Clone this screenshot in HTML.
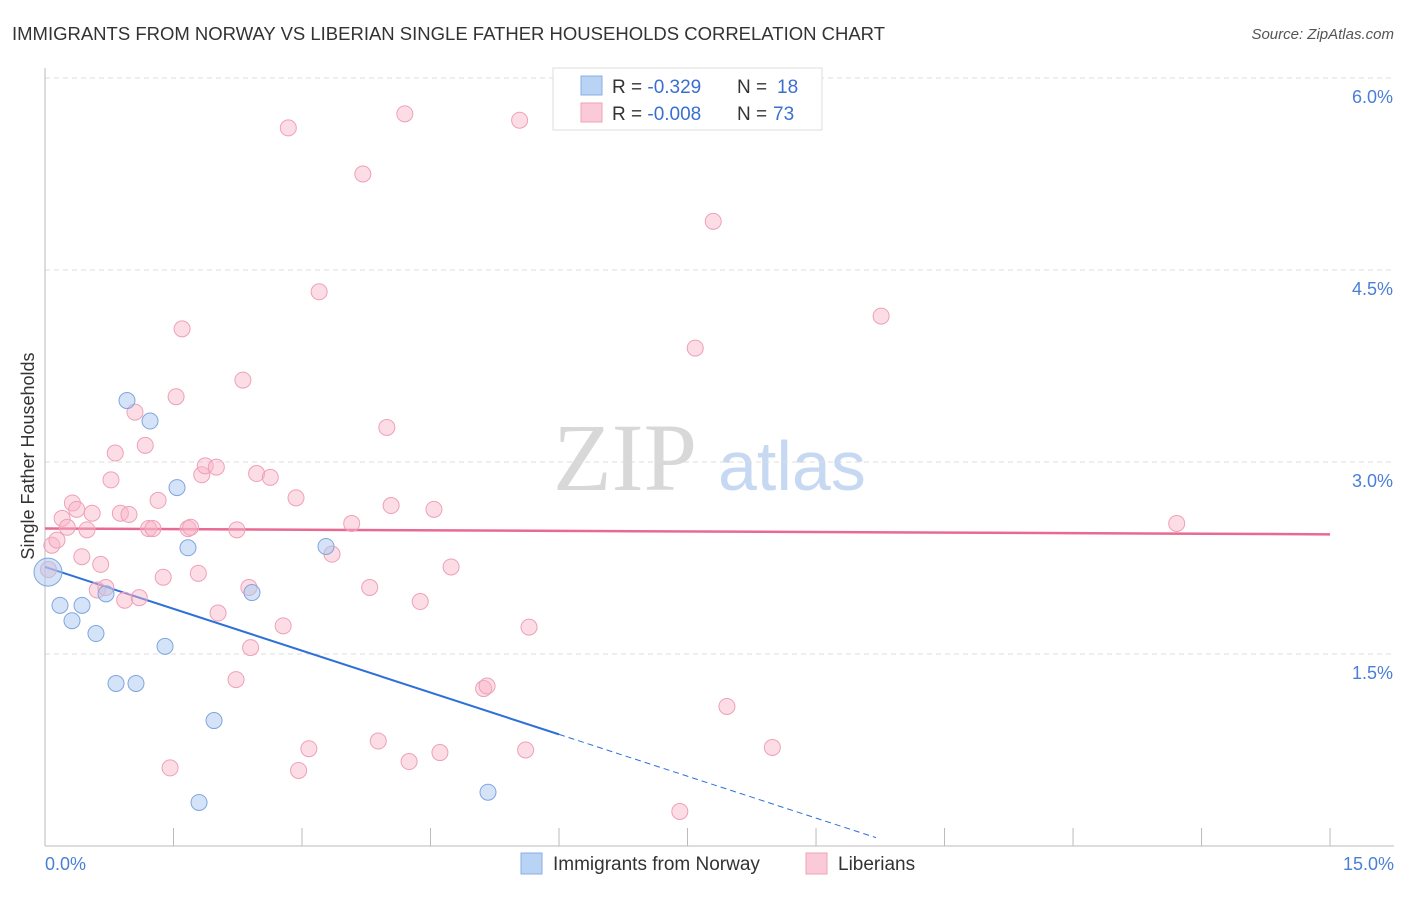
<!DOCTYPE html>
<html><head><meta charset="utf-8"><style>
body{margin:0;background:#fff;font-family:"Liberation Sans",sans-serif}
</style></head><body>
<svg id="c" width="1406" height="892" font-family="Liberation Sans, sans-serif">
<text x="12" y="40" font-size="18.5" fill="#333" textLength="873">IMMIGRANTS FROM NORWAY VS LIBERIAN SINGLE FATHER HOUSEHOLDS CORRELATION CHART</text>
<text x="1394" y="39" font-size="15" fill="#555" font-style="italic" text-anchor="end">Source: ZipAtlas.com</text>
<text x="34" y="456" font-size="18" fill="#333" text-anchor="middle" transform="rotate(-90 34 456)">Single Father Households</text>
<text x="553" y="490" font-size="96" fill="#d8d8d8" style="font-family:'Liberation Serif',serif">ZIP</text>
<text x="718" y="490" font-size="70" fill="#c7d9f2">atlas</text>
<g id="grid"></g><g id="axes"></g><g id="lines"></g><g id="pts"></g>
<g>
<rect x="553" y="68" width="269" height="62" fill="#fff" stroke="#ddd"/>
<rect x="581" y="76" width="21" height="19" fill="#b9d3f5" stroke="#88aee6"/>
<rect x="581" y="103" width="21" height="19" fill="#fbcad8" stroke="#f0a0b8"/>
<text x="612" y="93" font-size="19" fill="#333">R = <tspan fill="#3a6fd0"> -0.329</tspan><tspan x="737">N = </tspan><tspan fill="#3a6fd0" x="777">18</tspan></text>
<text x="612" y="120" font-size="19" fill="#333">R = <tspan fill="#3a6fd0">-0.008</tspan><tspan x="737">N = </tspan><tspan fill="#3a6fd0" x="773">73</tspan></text>
</g>
<g>
<rect x="521" y="853" width="21" height="21" fill="#b9d3f5" stroke="#88aee6"/>
<text x="553" y="870" font-size="19" fill="#333">Immigrants from Norway</text>
<rect x="806" y="853" width="21" height="21" fill="#fbcad8" stroke="#f0a0b8"/>
<text x="838" y="870" font-size="19" fill="#333">Liberians</text>
</g>
</svg>
<script>
const xTicks=[0,1.5,3,4.5,6,7.5,9,10.5,12,13.5,15];
const yTicks=[1.5,3.0,4.5,6.0];
const norwayX=[0.035,0.175,0.315,0.432,0.595,0.712,0.829,0.957,1.062,1.226,1.401,1.541,1.669,1.798,1.973,2.416,3.28,5.171];
const norwayY=[2.14,1.88,1.76,1.88,1.66,1.97,1.27,3.48,1.27,3.32,1.56,2.8,2.33,0.34,0.98,1.98,2.34,0.42];
const liberX=[48,52,57,62,67,72,77,82,87,92,97,101,106,111,115,120,125,129,135,139,145,149,153,158,163,170,176,182,188,191,198,202,205,216,218,237,243,236,249,251,257,270,283,288,296,299,309,319,332,352,363,370,378,387,391,405,409,420,434,440,451,484,487,520,526,529,680,695,713,727,772,881,1177].map(p=>+((p-45)/85.67).toFixed(2));
const liberY=[570,545,540,518,527,503,510,557,530,513,590,565,587,480,453,513,600,514,412,598,446,528,528,501,577,768,397,329,528,527,573,475,466,467,613,530,380,680,588,647,473,477,626,128,498,771,749,292,554,523,174,588,741,428,505,114,761,601,509,753,567,688,686,120,750,627,812,348,222,707,747,316,523].map(p=>+((846-p)/128).toFixed(2));
const norwayFit=[2.18,-0.218];
const liberFit=[2.48,-0.003];
const X=v=>45+v*85.67, Y=v=>846-v*128;
const NS="http://www.w3.org/2000/svg";
function mk(parent,tag,attrs){const e=document.createElementNS(NS,tag);for(const k in attrs)e.setAttribute(k,attrs[k]);document.getElementById(parent).appendChild(e);return e;}
yTicks.forEach(t=>{
 const l=mk('grid','line',{x1:45,x2:1394,y1:Y(t),y2:Y(t),stroke:'#ddd','stroke-dasharray':'5,4'});
 
 
 const tx=mk('grid','text',{x:1393,y:Y(t)+25,'font-size':18,fill:'#4a7fd6','text-anchor':'end'});
 tx.textContent=t.toFixed(1)+'%';
 
 
});
const ya=mk('axes','line',{x1:45,x2:45,y1:68,y2:846,stroke:'#bbb'});


const xa=mk('axes','line',{x1:45,x2:1394,y1:846,y2:846,stroke:'#bbb'});


xTicks.forEach(t=>{
 const l=mk('axes','line',{x1:X(t),x2:X(t),y1:828,y2:846,stroke:'#bbb'});
 
 
});
[[0,'start',45],[15,'end',1394]].forEach(([t,a,px])=>{
 const tx=mk('axes','text',{x:px,y:870,'font-size':18,fill:'#4a7fd6','text-anchor':a});
 tx.textContent=t.toFixed(1)+'%';
 
 
});
const nl=mk('lines','line',{x1:X(0),y1:Y(norwayFit[0]),x2:X(6),y2:Y(norwayFit[0]+norwayFit[1]*6),stroke:'#2f6fd8','stroke-width':2});


const nd=mk('lines','line',{x1:X(6),y1:Y(norwayFit[0]+norwayFit[1]*6),x2:X(9.7),y2:Y(norwayFit[0]+norwayFit[1]*9.7),stroke:'#2f6fd8','stroke-width':1,'stroke-dasharray':'6,4'});


const ll=mk('lines','line',{x1:X(0),y1:Y(liberFit[0]),x2:X(15),y2:Y(liberFit[0]+liberFit[1]*15),stroke:'#e86a92','stroke-width':2.5});


liberX.forEach((x,i)=>{
 const c=mk('pts','circle',{cx:X(x),cy:Y(liberY[i]),r:8,fill:'rgba(248,180,200,0.45)',stroke:'#eea0b8','stroke-width':1});
 
 
});
norwayX.forEach((x,i)=>{
 const c=mk('pts','circle',{cx:X(x),cy:Y(norwayY[i]),r:i==0?14:8,fill:'rgba(170,200,240,0.5)',stroke:'#7fa6de','stroke-width':1});
 
 
});
</script>
</body></html>
